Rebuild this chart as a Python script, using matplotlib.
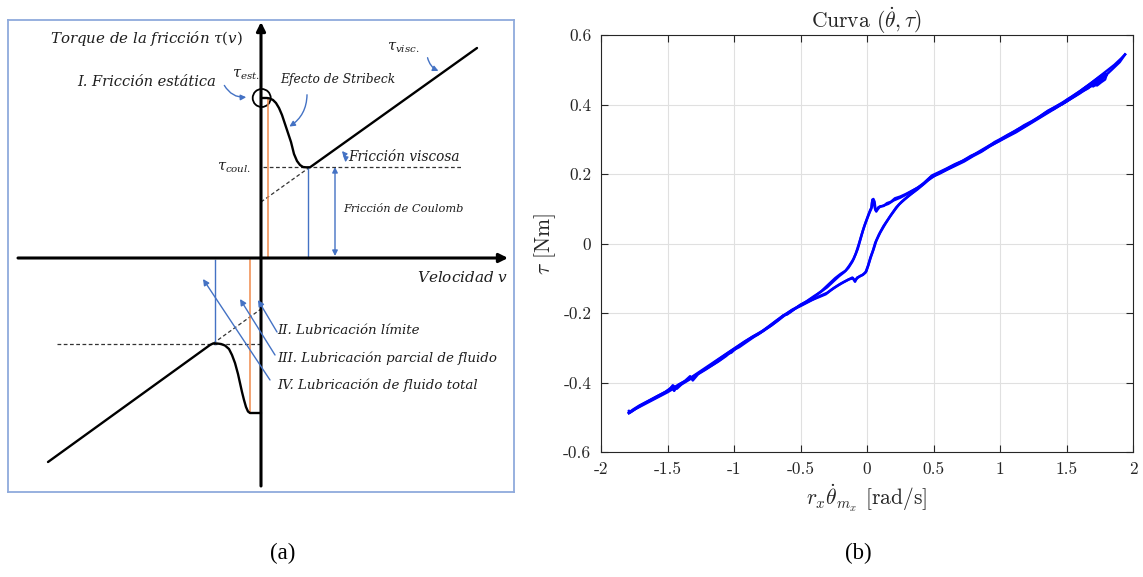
import matplotlib
matplotlib.use('Agg')
import matplotlib.pyplot as plt
from matplotlib.patches import Circle, FancyArrowPatch
from matplotlib.ticker import FixedLocator, FixedFormatter

# ================= Panel (a): schematic friction model (diagram units) =================
tau_static = 160
tau_coulomb = 91
tau_viscous_at_zero = 56
tau_static_neg = -155
tau_coulomb_neg = -85.5
tau_viscous_at_zero_neg = -51

upper_curve_v = [0, 6, 9, 12, 15, 18, 21, 24, 27, 30, 33, 36, 39, 42, 45, 49, 216]
upper_curve_tau = [160, 160, 159.5, 158, 155, 150, 143, 134, 125, 116, 104, 97, 93, 91, 90.7, 90.7, 210]
lower_curve_v = [0, -11, -13, -15, -17, -19, -21, -23, -26, -29, -32, -36, -40, -44, -48, -51, -213]
lower_curve_tau = [-155, -155, -153.5, -149, -142, -134, -125, -116, -105, -97, -91, -87.5, -86, -85.5, -85.5, -87, -204]

orange_v = [7, -11]
blue_v = [47, -46]
coulomb_arrow_v = 74
dash_end_v = 202
dash_end_v_neg = -204

# ================= Panel (b): measured hysteresis curve =================
c1_up_v = [-1.79, -1.76, -1.71, -1.66, -1.61, -1.56, -1.51, -1.47, -1.45, -1.42, -1.37, -1.33, -1.31, -1.27,
           -1.21, -1.15, -1.09, -1.05, -1.02, -0.98, -0.93, -0.87, -0.82, -0.77, -0.72, -0.66, -0.63, -0.60,
           -0.55, -0.50, -0.45, -0.40, -0.34, -0.29, -0.24, -0.20, -0.16, -0.13, -0.10, -0.07, -0.05, -0.03,
           -0.012, 0.008, 0.025, 0.035, 0.040, 0.048, 0.057, 0.064, 0.070, 0.085, 0.100, 0.125, 0.150, 0.180,
           0.210, 0.250, 0.290, 0.330, 0.380, 0.430, 0.490, 0.540, 0.600, 0.660, 0.720, 0.780, 0.840, 0.900,
           0.960, 1.000, 1.060, 1.120, 1.180, 1.240, 1.300, 1.360, 1.420, 1.470, 1.500, 1.560, 1.620, 1.680,
           1.740, 1.800, 1.860, 1.910, 1.940]
c1_up_tau = [-0.487, -0.478, -0.466, -0.456, -0.446, -0.436, -0.426, -0.414, -0.424, -0.407, -0.396, -0.382,
             -0.394, -0.376, -0.362, -0.347, -0.331, -0.318, -0.314, -0.300, -0.287, -0.272, -0.262, -0.248,
             -0.236, -0.218, -0.207, -0.204, -0.190, -0.176, -0.166, -0.154, -0.136, -0.118, -0.100, -0.088,
             -0.078, -0.062, -0.044, -0.016, 0.011, 0.038, 0.059, 0.080, 0.097, 0.104, 0.126, 0.128, 0.120,
             0.096, 0.092, 0.104, 0.107, 0.108, 0.116, 0.120, 0.130, 0.135, 0.142, 0.150, 0.160, 0.175, 0.196,
             0.205, 0.216, 0.228, 0.238, 0.252, 0.262, 0.276, 0.292, 0.300, 0.313, 0.325, 0.340, 0.352, 0.366,
             0.382, 0.394, 0.404, 0.413, 0.428, 0.443, 0.460, 0.478, 0.496, 0.514, 0.532, 0.544]
c1_down_v = [1.94, 1.90, 1.84, 1.79, 1.76, 1.72, 1.66, 1.60, 1.54, 1.48, 1.42, 1.36, 1.30, 1.24, 1.18, 1.12,
             1.05, 0.98, 0.92, 0.86, 0.80, 0.73, 0.66, 0.60, 0.54, 0.48, 0.43, 0.38, 0.33, 0.28, 0.24, 0.21,
             0.17, 0.124, 0.09, 0.062, 0.045, 0.025, 0.008, -0.012, -0.037, -0.060, -0.074, -0.090, -0.105,
             -0.136, -0.18, -0.223, -0.27, -0.31, -0.36, -0.42, -0.50, -0.56, -0.62, -0.68, -0.74, -0.80, -0.86,
             -0.92, -0.97, -1.03, -1.08, -1.14, -1.20, -1.26, -1.32, -1.38, -1.44, -1.50, -1.56, -1.62, -1.68,
             -1.74, -1.78, -1.79]
c1_down_tau = [0.544, 0.522, 0.500, 0.482, 0.470, 0.460, 0.448, 0.432, 0.418, 0.404, 0.390, 0.376, 0.362,
               0.348, 0.334, 0.320, 0.306, 0.292, 0.279, 0.264, 0.252, 0.236, 0.223, 0.212, 0.200, 0.190, 0.172,
               0.156, 0.142, 0.126, 0.112, 0.097, 0.076, 0.050, 0.026, 0.002, -0.020, -0.041, -0.064, -0.084,
               -0.091, -0.096, -0.098, -0.110, -0.100, -0.103, -0.112, -0.122, -0.134, -0.146, -0.154, -0.163,
               -0.178, -0.190, -0.206, -0.222, -0.240, -0.256, -0.268, -0.283, -0.296, -0.311, -0.324, -0.340,
               -0.357, -0.372, -0.388, -0.402, -0.414, -0.428, -0.440, -0.452, -0.464, -0.476, -0.486, -0.482]
c2_up_v = [-1.79, -1.72, -1.65, -1.58, -1.52, -1.48, -1.46, -1.43, -1.38, -1.32, -1.26, -1.19, -1.12, -1.06,
           -1.01, -0.96, -0.90, -0.84, -0.78, -0.72, -0.67, -0.62, -0.58, -0.52, -0.46, -0.40, -0.35, -0.30,
           -0.25, -0.21, -0.17, -0.14, -0.11, -0.085, -0.06, -0.04, -0.02, 0.00, 0.02, 0.032, 0.038, 0.045,
           0.053, 0.062, 0.075, 0.095, 0.13, 0.16, 0.20, 0.25, 0.30, 0.36, 0.42, 0.48, 0.55, 0.62, 0.70, 0.77,
           0.84, 0.92, 0.99, 1.06, 1.13, 1.20, 1.27, 1.34, 1.41, 1.48, 1.54, 1.60, 1.65, 1.70, 1.75, 1.79, 1.80]
c2_up_tau = [-0.488, -0.470, -0.455, -0.440, -0.428, -0.418, -0.408, -0.418, -0.400, -0.386, -0.372, -0.356,
             -0.340, -0.324, -0.308, -0.298, -0.282, -0.266, -0.252, -0.236, -0.222, -0.207, -0.198, -0.182,
             -0.168, -0.152, -0.140, -0.126, -0.108, -0.094, -0.082, -0.070, -0.052, -0.030, 0.000, 0.026,
             0.050, 0.070, 0.090, 0.100, 0.118, 0.122, 0.112, 0.098, 0.096, 0.105, 0.110, 0.114, 0.124, 0.132,
             0.142, 0.156, 0.170, 0.192, 0.204, 0.219, 0.234, 0.248, 0.264, 0.282, 0.296, 0.312, 0.328, 0.342,
             0.358, 0.376, 0.392, 0.408, 0.422, 0.438, 0.452, 0.466, 0.480, 0.490, 0.484]
c2_down_v = [1.80, 1.79, 1.76, 1.73, 1.70, 1.66, 1.61, 1.55, 1.49, 1.43, 1.37, 1.31, 1.25, 1.19, 1.12, 1.06,
             0.99, 0.93, 0.87, 0.80, 0.73, 0.66, 0.59, 0.52, 0.46, 0.40, 0.35, 0.30, 0.26, 0.22, 0.18, 0.14,
             0.10, 0.07, 0.05, 0.03, 0.012, -0.005, -0.03, -0.055, -0.08, -0.095, -0.11, -0.15, -0.20, -0.25,
             -0.30, -0.36, -0.43, -0.50, -0.57, -0.64, -0.71, -0.78, -0.85, -0.92, -0.99, -1.06, -1.13, -1.20,
             -1.27, -1.34, -1.41, -1.48, -1.55, -1.62, -1.69, -1.75, -1.79]
c2_down_tau = [0.484, 0.472, 0.464, 0.455, 0.458, 0.446, 0.436, 0.422, 0.406, 0.394, 0.380, 0.366, 0.352,
               0.338, 0.322, 0.310, 0.294, 0.282, 0.268, 0.254, 0.238, 0.225, 0.211, 0.198, 0.182, 0.164, 0.148,
               0.133, 0.120, 0.104, 0.082, 0.058, 0.032, 0.008, -0.016, -0.038, -0.060, -0.080, -0.090, -0.094,
               -0.102, -0.106, -0.098, -0.106, -0.116, -0.128, -0.142, -0.152, -0.166, -0.180, -0.193, -0.210,
               -0.230, -0.250, -0.266, -0.282, -0.300, -0.318, -0.336, -0.354, -0.372, -0.390, -0.405, -0.420,
               -0.436, -0.450, -0.464, -0.478, -0.488]
c3_v = [1.40, 1.46, 1.52, 1.58, 1.63, 1.68, 1.72, 1.76, 1.78, 1.77, 1.74, 1.70, 1.72, 1.75, 1.71, 1.66,
        1.62, 1.57, 1.52, 1.47]
c3_tau = [0.386, 0.400, 0.416, 0.430, 0.446, 0.458, 0.470, 0.480, 0.486, 0.474, 0.462, 0.452, 0.468, 0.476,
          0.460, 0.448, 0.440, 0.426, 0.414, 0.402]

x_ticks = [-2, -1.5, -1, -0.5, 0, 0.5, 1, 1.5, 2]
x_tick_labels = ['-2', '-1.5', '-1', '-0.5', '0', '0.5', '1', '1.5', '2']
y_ticks = [-0.6, -0.4, -0.2, 0, 0.2, 0.4, 0.6]
y_tick_labels = ['-0.6', '-0.4', '-0.2', '0', '0.2', '0.4', '0.6']

# ================= Figure =================
W, H = 1143, 577
fig = plt.figure(figsize=(W / 100, H / 100), dpi=100)
fig.patch.set_facecolor('white')

# ---------- Panel (a) ----------
ax_a = fig.add_axes([8 / W, (H - 492) / H, (514 - 8) / W, (492 - 20) / H])
ax_a.set_xlim(-253, 253)
ax_a.set_ylim(-234, 238)
ax_a.set_xticks([])
ax_a.set_yticks([])
for s in ax_a.spines.values():
    s.set_color('#8faadc')
    s.set_linewidth(1.3)

BLUE = '#4472c4'
ORANGE = '#f08a4b'
TXT = '#1e1e1e'
serif = dict(family='DejaVu Serif', style='italic', color=TXT, math_fontfamily='dejavuserif')

# axes with arrows
ax_a.annotate('', xy=(247, 0), xytext=(-243, 0),
              arrowprops=dict(arrowstyle='-|>', lw=2.2, color='black', mutation_scale=13,
                              shrinkA=0, shrinkB=0))
ax_a.annotate('', xy=(0, 236), xytext=(0, -228),
              arrowprops=dict(arrowstyle='-|>', lw=2.2, color='black', mutation_scale=13,
                              shrinkA=0, shrinkB=0))

# dashed guide lines
ax_a.plot([2, dash_end_v], [tau_coulomb, tau_coulomb], ls=(0, (3, 2)), color='#333333', lw=0.9)
ax_a.plot([0, upper_curve_v[-2]], [tau_viscous_at_zero, tau_coulomb], ls=(0, (3, 2)), color='#333333', lw=0.9)
ax_a.plot([dash_end_v_neg, 0], [tau_coulomb_neg, tau_coulomb_neg], ls=(0, (3, 2)), color='#333333', lw=0.9)
ax_a.plot([lower_curve_v[-3], 0], [tau_coulomb_neg, tau_viscous_at_zero_neg], ls=(0, (3, 2)),
          color='#333333', lw=0.9)

# orange and blue vertical lines
ax_a.plot([orange_v[0], orange_v[0]], [tau_static, 0], color=ORANGE, lw=1.1)
ax_a.plot([orange_v[1], orange_v[1]], [-2, tau_static_neg], color=ORANGE, lw=1.1)
ax_a.plot([blue_v[0], blue_v[0]], [tau_coulomb, 0], color=BLUE, lw=1.0)
ax_a.plot([blue_v[1], blue_v[1]], [-2, tau_coulomb_neg], color=BLUE, lw=1.0)

# friction curves
ax_a.plot(upper_curve_v, upper_curve_tau, color='black', lw=1.7, solid_capstyle='round')
ax_a.plot(lower_curve_v, lower_curve_tau, color='black', lw=1.7, solid_capstyle='round')

# static friction circle
ax_a.add_patch(Circle((0.7, tau_static), 9, fill=False, ec='black', lw=1.3))

# Coulomb double arrow
ax_a.annotate('', xy=(coulomb_arrow_v, 2), xytext=(coulomb_arrow_v, tau_coulomb),
              arrowprops=dict(arrowstyle='<|-|>', lw=1.0, color=BLUE, mutation_scale=8,
                              shrinkA=0, shrinkB=0))
# viscous small double arrow
ax_a.add_patch(FancyArrowPatch((79, 109), (84, 93), arrowstyle='<|-|>', mutation_scale=7,
                               connectionstyle='arc3,rad=-0.3', color=BLUE, lw=1.0))

# curved annotation arrows
ax_a.add_patch(FancyArrowPatch((-38, 175), (-12, 161), arrowstyle='-|>', mutation_scale=8,
                               connectionstyle='arc3,rad=0.35', color=BLUE, lw=1.0))
ax_a.add_patch(FancyArrowPatch((46, 166), (26, 130), arrowstyle='-|>', mutation_scale=8,
                               connectionstyle='arc3,rad=-0.3', color=BLUE, lw=1.0))
ax_a.add_patch(FancyArrowPatch((166, 203), (180, 186), arrowstyle='-|>', mutation_scale=8,
                               connectionstyle='arc3,rad=0.3', color=BLUE, lw=1.0))
# straight lubrication arrows
for (x0, y0), (x1, y1) in [((16, -74), (-3, -42)), ((14, -97), (-21, -41)), ((9, -122), (-58, -21))]:
    ax_a.annotate('', xy=(x1, y1), xytext=(x0, y0),
                  arrowprops=dict(arrowstyle='-|>', lw=1.0, color=BLUE, mutation_scale=9,
                                  shrinkA=0, shrinkB=0))

# texts
ax_a.text(-211, 220, r'Torque de la fricción $\tau(v)$', fontsize=10.8, ha='left', va='center', **serif)
ax_a.text(126, 210, r'$\tau_{visc.}$', fontsize=10.5, ha='left', va='center', **serif)
ax_a.text(-184, 176, 'I. Fricción estática', fontsize=10.5, ha='left', va='center', **serif)
ax_a.text(-29, 183, r'$\tau_{est.}$', fontsize=10.5, ha='left', va='center', **serif)
ax_a.text(19, 178, 'Efecto de Stribeck', fontsize=8.8, ha='left', va='center', **serif)
ax_a.text(-44, 90, r'$\tau_{coul.}$', fontsize=10.5, ha='left', va='center', **serif)
ax_a.text(87, 101, 'Fricción viscosa', fontsize=9.8, ha='left', va='center', **serif)
ax_a.text(82, 49, 'Fricción de Coulomb', fontsize=8.2, ha='left', va='center', **serif)
ax_a.text(247, -19, r'Velocidad $v$', fontsize=11, ha='right', va='center', **serif)
ax_a.text(16, -72, 'II. Lubricación límite', fontsize=9.6, ha='left', va='center', **serif)
ax_a.text(16, -100, 'III. Lubricación parcial de fluido', fontsize=9.6, ha='left', va='center', **serif)
ax_a.text(16, -127, 'IV. Lubricación de fluido total', fontsize=9.6, ha='left', va='center', **serif)

# ---------- Panel (b) ----------
cm = dict(family='cmr10', math_fontfamily='cm')
ax_b = fig.add_axes([601 / W, (H - 452) / H, (1133 - 601) / W, (452 - 35) / H])
for v, t in [(c1_up_v, c1_up_tau), (c1_down_v, c1_down_tau), (c2_up_v, c2_up_tau),
             (c2_down_v, c2_down_tau), (c3_v, c3_tau)]:
    ax_b.plot(v, t, color='#0000ff', lw=1.8, solid_joinstyle='round')
ax_b.set_xlim(-2, 2)
ax_b.set_ylim(-0.6, 0.6)
ax_b.xaxis.set_major_locator(FixedLocator(x_ticks))
ax_b.xaxis.set_major_formatter(FixedFormatter(x_tick_labels))
ax_b.yaxis.set_major_locator(FixedLocator(y_ticks))
ax_b.yaxis.set_major_formatter(FixedFormatter(y_tick_labels))
ax_b.grid(True, color='#e0e0e0', lw=0.8)
ax_b.set_axisbelow(True)
ax_b.tick_params(direction='in', length=5, width=0.8, top=True, right=True, color='#262626',
                 labelcolor='#262626', labelsize=12.5, pad=7)
for lab in ax_b.get_xticklabels() + ax_b.get_yticklabels():
    lab.set_family('cmr10')
for s in ax_b.spines.values():
    s.set_color('#262626')
    s.set_linewidth(0.8)
ax_b.set_title(r'Curva $(\dot{\theta},\tau)$', fontsize=15.5, pad=5, color='#262626', **cm)
ax_b.set_xlabel(r'$r_x\dot{\theta}_{m_x}$ [rad/s]', fontsize=15.5, labelpad=4, color='#262626', **cm)
ax_b.set_ylabel(r'$\tau$ [Nm]', fontsize=15.5, labelpad=4, color='#262626', **cm)

# panel labels
fig.text(283 / W, 1 - 553 / H, '(a)', fontsize=16.5, family='Liberation Serif', ha='center', va='center')
fig.text(858 / W, 1 - 553 / H, '(b)', fontsize=16.5, family='Liberation Serif', ha='center', va='center')

fig.savefig('out.png', dpi=100, facecolor='white')
